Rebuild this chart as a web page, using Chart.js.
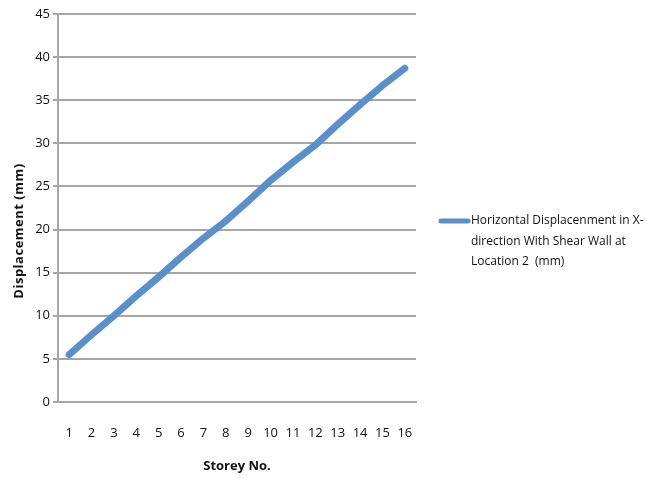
<!DOCTYPE html>
<html>
<head>
<meta charset="utf-8">
<script src="https://cdn.jsdelivr.net/npm/chart.js@4/dist/chart.umd.min.js"></script>
<style>
  html, body { margin: 0; padding: 0; background: #fff; }
  #wrap { width: 660px; height: 478px; position: relative; }
</style>
</head>
<body>
<div id="wrap"><canvas id="c" width="660" height="478"></canvas></div>
<script>
// Storey numbers along the x axis
const storeys = ['1','2','3','4','5','6','7','8','9','10','11','12','13','14','15','16'];
// Horizontal displacement per storey (mm)
const displacement = [5.5, 7.8, 10.0, 12.3, 14.5, 16.8, 19.0, 21.0, 23.3, 25.7, 27.8, 29.8, 32.2, 34.5, 36.7, 38.7];
// Legend text, split over lines
const seriesLabel = ['Horizontal Displacenment in X-', 'direction With Shear Wall at', 'Location 2  (mm)'];
const yTitle = 'Displacement (mm)';
const xTitle = 'Storey No.';

const FONT = "'Open Sans', sans-serif";
const LINE_COLOR = '#5b8fca';
const GRID_COLOR = '#a6a6a6';

// Draws the legend to the right of the plot, one wrapped entry
const sideLegend = {
  id: 'sideLegend',
  afterDraw(chart) {
    const ctx = chart.ctx;
    const ds = chart.data.datasets[0];
    const x0 = 441, y0 = 221, lh = 20.5;
    ctx.save();
    ctx.strokeStyle = ds.borderColor;
    ctx.lineWidth = 5;
    ctx.lineCap = 'round';
    ctx.beginPath();
    ctx.moveTo(x0, y0);
    ctx.lineTo(x0 + 27, y0);
    ctx.stroke();
    ctx.fillStyle = '#111';
    ctx.font = '12px ' + FONT;
    ctx.textBaseline = 'middle';
    ctx.textAlign = 'left';
    ds.label.forEach((t, i) => ctx.fillText(t, x0 + 30, y0 + i * lh));
    ctx.restore();
  }
};

// Vertical axis title, letter-spaced, centred on the plot height
const yAxisTitle = {
  id: 'yAxisTitle',
  afterDraw(chart) {
    const ctx = chart.ctx;
    const area = chart.chartArea;
    ctx.save();
    ctx.translate(19, (area.top + area.bottom) / 2 + 23);
    ctx.rotate(-Math.PI / 2);
    ctx.fillStyle = '#111';
    ctx.font = 'bold 13px ' + FONT;
    ctx.letterSpacing = '0.5px';
    ctx.textAlign = 'center';
    ctx.textBaseline = 'middle';
    ctx.fillText(yTitle, 0, 0);
    ctx.restore();
  }
};

new Chart(document.getElementById('c'), {
  type: 'line',
  data: {
    labels: storeys,
    datasets: [{
      label: seriesLabel,
      data: displacement,
      borderColor: LINE_COLOR,
      backgroundColor: LINE_COLOR,
      borderWidth: 7,
      borderCapStyle: 'round',
      borderJoinStyle: 'round',
      pointRadius: 0,
      tension: 0,
      fill: false
    }]
  },
  options: {
    responsive: false,
    animation: false,
    layout: { padding: { left: 0, top: 14, right: 244, bottom: 0 } },
    plugins: {
      legend: { display: false },
      tooltip: { enabled: false }
    },
    scales: {
      x: {
        offset: true,
        grid: { display: false, drawTicks: false },
        border: { display: true, color: GRID_COLOR, width: 2 },
        ticks: { color: '#111', font: { family: FONT, size: 13 }, padding: 23, maxRotation: 0, autoSkip: false },
        title: { display: true, text: xTitle, color: '#111', font: { family: FONT, size: 13, weight: 'bold' }, padding: { top: 11 } },
        afterFit(s) { s.height = 76; }
      },
      y: {
        min: 0, max: 45,
        ticks: { stepSize: 5, color: '#111', font: { family: FONT, size: 13 }, padding: 3 },
        grid: { color: GRID_COLOR, lineWidth: 2, drawTicks: true, tickLength: 5, tickColor: GRID_COLOR },
        border: { display: true, color: GRID_COLOR, width: 2 },
        title: { display: false },
        afterFit(s) { s.width = 58; }
      }
    }
  },
  plugins: [sideLegend, yAxisTitle]
});
</script>
</body>
</html>
